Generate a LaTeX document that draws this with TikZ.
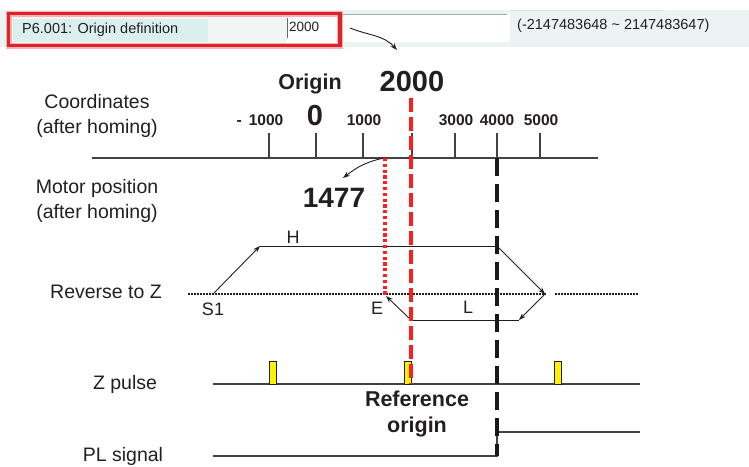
\documentclass[tikz,border=0pt]{standalone}
\usepackage{fontspec}
\setmainfont{Liberation Sans}
\usetikzlibrary{arrows.meta}
\definecolor{ink}{HTML}{231F20}
\definecolor{redline}{HTML}{FF1E1E}
\definecolor{boxred}{HTML}{DD2229}
\definecolor{barbg}{HTML}{EDF3F3}
\definecolor{inbox}{HTML}{F2F5F5}
\definecolor{labbox}{HTML}{DCEFEF}
\definecolor{pulse}{HTML}{FFF200}
\begin{document}
\begin{tikzpicture}[x=1pt,y=-1pt,
  lab/.style={text=ink,font=\fontsize{19.5}{25}\selectfont,align=center,inner sep=0pt},
  ticklab/.style={text=ink,font=\bfseries\fontsize{15.5}{18}\selectfont,inner sep=0pt},
  biglab/.style={text=ink,font=\bfseries\fontsize{29}{32}\selectfont,inner sep=0pt},
  pathlab/.style={text=ink,font=\fontsize{18}{20}\selectfont,inner sep=0pt},
  arr/.style={-{Stealth[length=7pt,width=5pt]},line width=0.9pt,draw=ink},
  plain/.style={line width=1pt,draw=ink},
  sig/.style={line width=1.2pt,draw=ink!85},
  dotline/.style={line width=2.8pt,draw=ink,dash pattern=on 2.2pt off 0.8pt},
]
\useasboundingbox (0,0) rectangle (749,466);
% top bar
\fill[barbg] (0,10) rectangle (749,47);
\fill[white] (287,14) rectangle (510,42);
\draw[gray!70,line width=1pt] (343,14.5) -- (507,14.5);
\draw[gray!25,line width=0.8pt] (510,10.5) -- (663,10.5);
\fill[inbox] (10,15) rectangle (287,44);
\fill[labbox] (13,19) rectangle (208,42);
\fill[white] (287,15) rectangle (338,44);
\draw[gray!80!black,line width=0.9pt] (287.5,18) -- (287.5,38);
\draw[boxred!35,line width=6pt] (8.5,13.5) rectangle (340,45.5);
\draw[boxred,line width=3.5pt] (8.5,13.5) rectangle (340,45.5);
\node[anchor=west,text=ink,font=\fontsize{14.5}{16}\selectfont,inner sep=0pt] (plabel) at (22,30) {P6.001: Origin definition};
\node[anchor=west,text=ink,font=\fontsize{13.5}{15}\selectfont,inner sep=0pt] (pval) at (289,27) {2000};
\node[anchor=west,text=ink,font=\fontsize{14.5}{16}\selectfont,inner sep=0pt] (prange) at (517,26) {(-2147483648 \textasciitilde{} 2147483647)};
\coordinate (a1s) at (350,28);
\coordinate (a1e) at (397,50);
\draw[arr] (a1s) to[out=-22,in=132] (a1e);

% left labels
\node[lab] (coord) at (97,116) {Coordinates\\(after homing)};
\node[lab] (motor) at (97,201) {Motor position\\(after homing)};
\node[lab] (rev) at (106,292) {Reverse to Z};
\node[lab] (zp) at (125,384) {Z pulse};
\node[lab] (pl) at (123,456) {PL signal};

% axis
\coordinate (axL) at (92,158);
\coordinate (axR) at (598,158);
\draw[sig] (axL) -- (axR);
\foreach \x in {269,316,363,412,455,497,540} \draw[sig] (\x,133) -- (\x,158);
\node[text=ink,font=\bfseries\fontsize{21.5}{24}\selectfont,inner sep=0pt] (origin) at (310,84) {Origin};
\node[biglab] (two) at (412,82) {2000};
\node[biglab] (zero) at (315,116) {0};
\node[ticklab] (tm1) at (260,120) {-\hspace{0.45em}1000};
\node[ticklab] (t1) at (364,120) {1000};
\node[ticklab] (t3) at (456,120) {3000};
\node[ticklab] (t4) at (497,120) {4000};
\node[ticklab] (t5) at (541,120) {5000};
\node[text=ink,font=\bfseries\fontsize{28}{30}\selectfont,inner sep=0pt] (v1477) at (334,198) {1477};
\coordinate (a2s) at (384,158);
\coordinate (a2e) at (343,178);
\draw[arr] (a2s) to[out=192,in=38] (a2e);

% reverse to Z
\draw[dotline] (188,294) -- (546,294);
\draw[dotline] (555,294) -- (638,294);
\coordinate (S1) at (213,294);
\coordinate (H1) at (260,246);
\coordinate (H2) at (497,246);
\coordinate (R) at (545,294);
\coordinate (L1) at (519,320);
\coordinate (L2) at (411,320);
\coordinate (E) at (386,296);
\draw[arr] (S1) -- (H1);
\draw[plain] (H1) -- (H2);
\draw[arr] (H2) -- (R);
\draw[arr] (R) -- (L1);
\draw[plain] (L1) -- (L2);
\draw[arr] (L2) -- (E);
\node[pathlab] (lH) at (293,237) {H};
\node[pathlab] (lS1) at (213,309) {S1};
\node[pathlab] (lE) at (377,308) {E};
\node[pathlab] (lL) at (468,307) {L};

% Z pulse
\draw[sig] (213,384) -- (640,384);
\foreach \x in {269,404,554} \filldraw[fill=pulse,draw=ink,line width=0.8pt] (\x,361) rectangle (\x+7.5,384);
% PL signal
\draw[sig] (213,456) -- (497,456) -- (497,432) -- (640,432);
\node[text=ink,font=\bfseries\fontsize{21.5}{26}\selectfont,align=center,inner sep=0pt] (ref) at (417,414) {Reference\\origin};

% vertical markers
\draw[redline,line width=3.4pt,dash pattern=on 3.2pt off 2.6pt] (385,158) -- (385,296);
\draw[black!90,line width=3.5pt,dash pattern=on 18pt off 8pt] (497,158) -- (497,456);
\draw[redline,line width=3.3pt,dash pattern=on 14pt off 5pt] (411,98) -- (411,384);
\end{tikzpicture}
\end{document}
